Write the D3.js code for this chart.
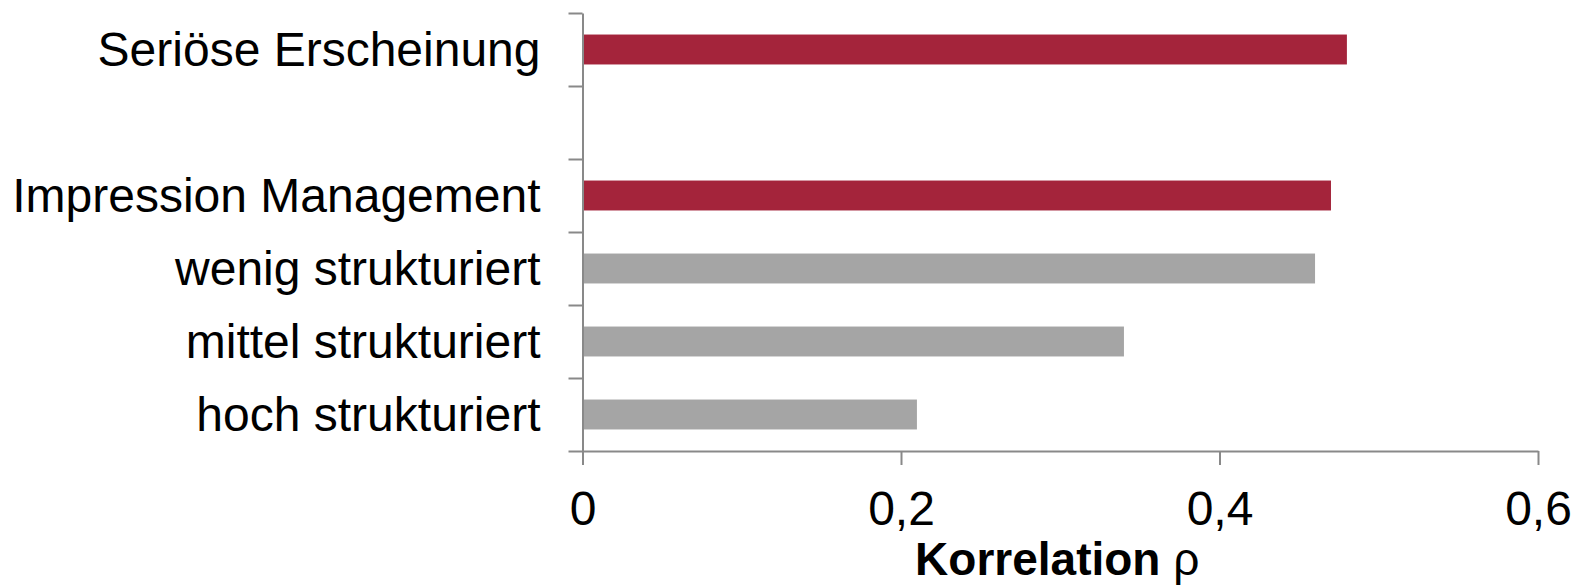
<!DOCTYPE html>
<html>
<head>
<meta charset="utf-8">
<script src="https://cdn.jsdelivr.net/npm/d3@7"></script>
<style>
  html, body { margin: 0; padding: 0; background: #ffffff; }
  svg { display: block; font-family: "Liberation Sans", Arial, sans-serif; }
</style>
</head>
<body>
<svg id="chart" width="1578" height="587"></svg>
<script>
// Correlation per item; the empty slot separates the two blocks
const categories = ["Seriöse Erscheinung", "", "Impression Management", "wenig strukturiert", "mittel strukturiert", "hoch strukturiert"];
const values = [0.48, null, 0.47, 0.46, 0.34, 0.21];
const groups = ["main", null, "main", "sub", "sub", "sub"];
const xTicks = [0, 0.2, 0.4, 0.6];
const xTitle = "Korrelation";
const xTitleSymbol = "ρ";

const colors = { main: "#A4243B", sub: "#A5A5A5" };
const axisColor = "#898989";

const width = 1578, height = 587;
const margin = { top: 13, right: 40, bottom: 136, left: 582.5 };
const innerW = width - margin.left - margin.right;
const innerH = height - margin.top - margin.bottom;

const svg = d3.select("#chart");
const g = svg.append("g").attr("transform", `translate(${margin.left},${margin.top})`);

const x = d3.scaleLinear().domain([0, 0.6]).range([0, innerW]);
const y = d3.scaleBand().domain(d3.range(categories.length)).range([0, innerH])
  .paddingInner(0.59).paddingOuter(0.295);
// boundaries between slots, for the y-axis tick marks
const yEdge = d3.scaleLinear().domain([0, categories.length]).range([0, innerH]);

const locale = d3.formatLocale({ decimal: ",", thousands: ".", grouping: [3], currency: ["", " €"] });
const fmt = v => v === 0 ? "0" : locale.format(".1f")(v);

// bars
g.selectAll("rect.bar")
  .data(values.map((v, i) => ({ v, i })).filter(d => d.v != null))
  .join("rect")
  .attr("class", "bar")
  .attr("x", x(0) + 1)
  .attr("y", d => y(d.i))
  .attr("width", d => x(d.v) - x(0) - 1)
  .attr("height", y.bandwidth())
  .attr("fill", d => colors[groups[d.i]]);

// y axis with ticks on slot boundaries
const yAxis = g.append("g")
  .call(d3.axisLeft(yEdge).tickValues(d3.range(categories.length + 1)).tickFormat("").tickSize(14).tickSizeOuter(0));
yAxis.selectAll("path, line").attr("stroke", axisColor).attr("stroke-width", 2);

// x axis
const xAxis = g.append("g")
  .attr("transform", `translate(0,${innerH})`)
  .call(d3.axisBottom(x).tickValues(xTicks).tickFormat(fmt).tickSize(14).tickSizeOuter(0).tickPadding(26));
xAxis.selectAll("path, line").attr("stroke", axisColor).attr("stroke-width", 2);
xAxis.selectAll("text")
  .attr("fill", "#000")
  .attr("font-size", 48)
  .attr("font-family", "'Liberation Sans', Arial, sans-serif");

// category labels
g.selectAll("text.cat")
  .data(categories.map((c, i) => ({ c, i })).filter(d => d.c))
  .join("text")
  .attr("class", "cat")
  .attr("x", -42)
  .attr("y", d => y(d.i) + y.bandwidth() / 2)
  .attr("dy", "0.35em")
  .attr("text-anchor", "end")
  .attr("font-size", 48)
  .attr("fill", "#000")
  .text(d => d.c);

// axis title: bold word, regular-weight rho
const title = g.append("text")
  .attr("x", innerW / 2 - 3)
  .attr("y", innerH + 124)
  .attr("text-anchor", "middle")
  .attr("font-size", 46)
  .attr("fill", "#000");
title.append("tspan").attr("font-weight", "bold").text(xTitle + " ");
title.append("tspan").attr("font-weight", "normal").text(xTitleSymbol);
</script>
</body>
</html>
